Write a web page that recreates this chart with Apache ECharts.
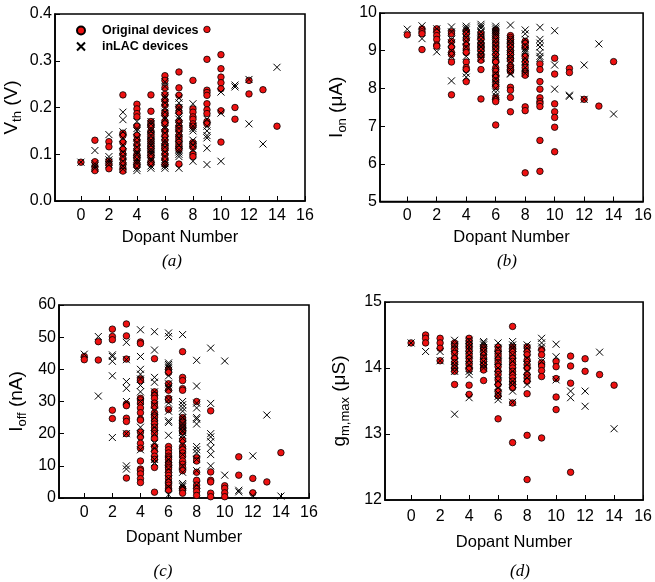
<!DOCTYPE html>
<html>
<head>
<meta charset="utf-8">
<script src="https://cdn.jsdelivr.net/npm/echarts@6/dist/echarts.min.js"></script>
<style>html,body{margin:0;padding:0;background:#fff}#c{width:655px;height:582px}</style>
</head>
<body>
<div id="c"></div>
<script>
// ---- data: index of each inner list = dopant number ----
const dopantTicks = [0, 2, 4, 6, 8, 10, 12, 14, 16];

const vthOrig = [
  [0.083],
  [0.130, 0.084, 0.073, 0.065],
  [0.127, 0.116, 0.085, 0.078, 0.069],
  [0.227, 0.145, 0.140, 0.125, 0.110, 0.100, 0.090, 0.080, 0.070, 0.064],
  [0.207, 0.197, 0.187, 0.180, 0.160, 0.140, 0.130, 0.120, 0.110, 0.100, 0.095, 0.090, 0.080, 0.075],
  [0.227, 0.192, 0.170, 0.165, 0.160, 0.150, 0.145, 0.140, 0.135, 0.130, 0.125, 0.120, 0.115, 0.110, 0.105, 0.100, 0.095, 0.085, 0.080],
  [0.268, 0.258, 0.242, 0.228, 0.215, 0.205, 0.190, 0.185, 0.170, 0.165, 0.150, 0.140, 0.130, 0.120, 0.115, 0.110, 0.100, 0.090, 0.078],
  [0.276, 0.242, 0.226, 0.200, 0.190, 0.170, 0.160, 0.155, 0.150, 0.140, 0.135, 0.130, 0.125, 0.120, 0.115, 0.110, 0.079],
  [0.258, 0.197, 0.190, 0.180, 0.175, 0.165, 0.160, 0.125, 0.120, 0.115, 0.100, 0.095],
  [0.367, 0.303, 0.237, 0.232, 0.226, 0.208, 0.195, 0.187, 0.170, 0.165],
  [0.313, 0.283, 0.265, 0.253, 0.240, 0.193, 0.126],
  [0.200, 0.175],
  [0.258, 0.229],
  [0.238],
  [0.160]
];
const vthLac = [
  [0.083],
  [0.108, 0.080, 0.075, 0.070],
  [0.142, 0.095, 0.088, 0.083, 0.078],
  [0.190, 0.174, 0.148, 0.135, 0.120, 0.105, 0.095, 0.085, 0.075, 0.068],
  [0.170, 0.155, 0.150, 0.135, 0.125, 0.115, 0.105, 0.100, 0.090, 0.085, 0.080, 0.070, 0.065],
  [0.170, 0.165, 0.155, 0.150, 0.140, 0.130, 0.125, 0.120, 0.110, 0.105, 0.100, 0.090, 0.085, 0.075, 0.070],
  [0.255, 0.245, 0.225, 0.220, 0.210, 0.200, 0.190, 0.180, 0.175, 0.160, 0.155, 0.145, 0.130, 0.125, 0.115, 0.105, 0.095, 0.085, 0.080, 0.075, 0.070],
  [0.220, 0.210, 0.200, 0.195, 0.180, 0.175, 0.165, 0.155, 0.145, 0.135, 0.120, 0.110, 0.105, 0.100, 0.095, 0.070],
  [0.208, 0.160, 0.155, 0.150, 0.130, 0.120, 0.110, 0.085],
  [0.175, 0.160, 0.150, 0.140, 0.135, 0.113, 0.078],
  [0.233, 0.188, 0.085],
  [0.248, 0.244],
  [0.260, 0.165],
  [0.122],
  [0.286]
];

const ionOrig = [
  [9.42],
  [9.58, 9.50, 9.45, 9.03],
  [9.58, 9.50, 9.40, 9.30, 9.15, 9.12],
  [9.50, 9.45, 9.25, 9.10, 8.95, 8.90, 8.70, 7.83],
  [9.52, 9.45, 9.30, 9.15, 9.05, 8.95, 8.70, 8.55, 8.50, 8.18],
  [9.45, 9.35, 9.30, 9.20, 9.15, 9.10, 9.05, 9.00, 8.90, 8.85, 8.75, 8.50, 7.72],
  [9.55, 9.45, 9.35, 9.25, 9.15, 9.05, 8.90, 8.75, 8.70, 8.55, 8.45, 8.35, 8.30, 8.20, 8.10, 8.05, 7.75, 7.70, 7.65, 7.03],
  [9.40, 9.35, 9.30, 9.25, 9.20, 9.15, 9.10, 9.00, 8.95, 8.90, 8.80, 8.75, 8.60, 8.55, 8.50, 8.45, 8.03, 7.95, 7.76, 7.38],
  [9.25, 9.20, 9.10, 8.85, 8.70, 8.55, 8.45, 8.40, 8.35, 7.51, 7.41, 5.76],
  [8.65, 8.50, 8.18, 7.98, 7.75, 7.65, 7.60, 7.52, 6.62, 5.80],
  [8.80, 8.38, 7.59, 7.38, 7.23, 6.97, 6.32],
  [8.53, 8.42],
  [7.71],
  [7.53],
  [8.71]
];
const ionLac = [
  [9.57],
  [9.66, 9.32],
  [9.58, 8.97],
  [9.63, 9.50, 9.30, 9.20, 9.00, 8.85, 8.20],
  [9.65, 9.60, 9.55, 9.45, 9.35, 9.25, 9.10, 8.85, 8.40, 8.30],
  [9.70, 9.65, 9.60, 9.50, 9.40, 9.30, 9.20, 9.10, 9.00, 8.90, 8.80],
  [9.65, 9.60, 9.55, 9.50, 9.45, 9.40, 9.30, 9.20, 9.10, 9.00, 8.90, 8.80, 8.60, 8.40, 8.25, 8.15, 8.00, 7.90, 7.80],
  [9.68, 9.30, 9.20, 9.10, 9.00, 8.90, 8.80, 8.70, 8.50, 8.40, 8.38],
  [9.55, 9.45, 9.30, 9.15, 9.05, 9.00, 8.95, 8.80, 8.70, 8.55, 8.40],
  [9.62, 9.30, 9.20, 9.10, 8.95, 8.85, 8.80],
  [9.53, 8.62, 7.98],
  [7.82, 7.79],
  [8.62, 7.71],
  [9.18],
  [7.32]
];

const ioffOrig = [
  [44.0, 43.0],
  [48.6, 42.9],
  [52.5, 50.2, 49.2, 27.3, 24.7],
  [54.1, 50.4, 43.2, 29.2, 28.7, 24.8, 23.8, 20.0, 6.2],
  [48.5, 48.0, 37.0, 36.5, 31.0, 30.5, 29.5, 28.0, 26.5, 24.5, 24.2, 20.5, 19.0, 17.0, 15.5, 11.5, 9.0, 8.5, 7.5, 6.0, 4.8],
  [43.3, 33.0, 32.0, 31.0, 29.5, 28.5, 26.5, 25.5, 25.0, 24.0, 23.0, 22.0, 21.0, 20.0, 18.5, 16.0, 14.5, 13.0, 12.0, 9.5, 1.8],
  [40.0, 39.0, 35.5, 33.5, 31.0, 30.5, 27.5, 16.0, 15.0, 14.0, 13.0, 12.5, 12.0, 11.0, 10.5, 10.0, 9.5, 9.0, 8.0, 7.0, 6.0, 5.0, 4.0, 3.0, 2.5],
  [45.5, 37.5, 36.5, 34.0, 33.5, 25.0, 24.5, 24.0, 23.5, 23.0, 22.5, 22.0, 21.5, 21.0, 20.5, 18.0, 16.0, 15.0, 14.0, 13.0, 11.5, 10.5, 9.5, 8.5, 3.0, 2.5, 1.5],
  [30.0, 12.5, 11.5, 8.0, 5.5, 4.0, 3.0, 2.0, 0.8],
  [27.1, 8.1, 5.5, 5.0, 1.5, 0.4],
  [3.8, 3.0, 1.6, 0.4],
  [12.8, 7.1],
  [6.1, 1.6],
  [5.0],
  [14.1]
];
const ioffLac = [
  [44.7],
  [50.2, 31.7],
  [44.5, 44.0, 42.5, 38.0, 18.8],
  [48.4, 43.0, 36.2, 34.1, 30.0, 20.0, 10.0, 9.0],
  [52.3, 44.0, 40.0, 38.5, 37.0, 35.0, 33.0, 30.0, 22.0, 20.0, 15.0],
  [51.7, 46.0, 37.5, 36.0, 33.0, 29.0, 27.0, 25.0, 22.0, 20.0, 17.0, 15.5, 12.0, 11.0],
  [51.3, 50.2, 42.0, 41.5, 41.0, 40.5, 38.0, 35.5, 34.5, 34.0, 30.5, 29.5, 27.0, 24.0, 23.5, 19.5, 12.0, 9.0, 6.0, 3.5, 1.0],
  [50.8, 30.0, 29.0, 28.0, 27.0, 25.0, 23.0, 22.0, 21.0, 20.5, 19.5, 18.5, 16.5, 13.5, 10.0, 8.0, 4.5, 4.0, 3.5],
  [42.8, 34.8, 29.5, 28.0, 25.0, 24.5, 23.0, 16.0, 15.0, 14.0, 12.0, 8.5, 4.0],
  [46.6, 29.4, 20.0, 19.0, 17.5, 15.5, 13.5, 10.0],
  [42.6, 7.1],
  [2.4, 1.9],
  [13.1, 0.7],
  [25.8],
  [0.6]
];

const gmOrig = [
  [14.38],
  [14.50, 14.45, 14.38],
  [14.45, 14.38, 14.30, 14.11],
  [14.38, 14.33, 14.28, 14.22, 14.15, 14.08, 14.00, 13.95, 13.75],
  [14.45, 14.40, 14.35, 14.30, 14.25, 14.20, 14.15, 14.10, 14.05, 14.00, 13.98, 13.74, 13.60],
  [14.32, 14.27, 14.20, 14.15, 14.10, 14.05, 14.00, 13.97, 13.81],
  [14.32, 14.27, 14.22, 14.18, 14.12, 14.08, 14.02, 13.95, 13.90, 13.82, 13.75, 13.65, 13.58, 13.23],
  [14.63, 14.32, 14.28, 14.25, 14.20, 14.15, 14.10, 14.05, 14.00, 13.95, 13.90, 13.85, 13.80, 13.75, 13.70, 13.47, 12.87],
  [14.32, 14.25, 14.20, 14.12, 14.05, 14.00, 13.90, 13.85, 13.80, 13.61, 12.98, 12.31],
  [14.28, 14.20, 14.08, 14.03, 13.96, 13.87, 12.94],
  [14.10, 14.02, 13.84, 13.56, 13.37],
  [14.18, 14.03, 13.77, 12.42],
  [14.14, 13.95],
  [13.90],
  [13.74]
];
const gmLac = [
  [14.38],
  [14.25],
  [14.25, 14.11],
  [14.42, 14.35, 14.30, 14.20, 14.10, 14.05, 14.00, 13.95, 13.30],
  [14.42, 14.37, 14.32, 14.27, 14.20, 14.12, 14.05, 13.95, 13.90, 13.55],
  [14.40, 14.38, 14.35, 14.30, 14.25, 14.18, 14.10, 14.05, 14.00],
  [14.38, 14.30, 14.20, 14.10, 14.00, 13.90, 13.80, 13.70, 13.62, 13.57, 13.52],
  [14.40, 14.35, 14.30, 14.20, 14.10, 13.95, 13.80, 13.75, 13.65, 13.48],
  [14.35, 14.30, 14.15, 14.05, 13.95, 13.85, 13.75],
  [14.45, 14.38, 14.32, 14.10],
  [14.36, 14.17, 13.82],
  [13.65, 13.55],
  [13.65, 13.42],
  [14.24],
  [13.08]
];

// ---- chart ----
const FONT = '"Liberation Sans", Arial, Helvetica, sans-serif';
const SERIF = '"Liberation Serif", "Times New Roman", serif';
function toPoints(cols) {
  const pts = [];
  cols.forEach((vals, n) => vals.forEach(v => pts.push([n, v])));
  return pts;
}

const panels = [
  { grid: { left: 55, top: 14, width: 250, height: 187 }, xMin: -1.85, yMin: 0, yMax: 0.4, yStep: 0.1, dec: 1,
    name: '{m|V}{s|th}{m| (V)}', nameGap: 31, lblMargin: 7, xNameGap: 28, orig: vthOrig, lac: vthLac },
  { grid: { left: 380, top: 13, width: 264, height: 188.5 }, xMin: -1.85, yMin: 5, yMax: 10, yStep: 1, dec: 0,
    name: '{m|I}{s|on}{m| (μA)}', nameGap: 31, lblMargin: 6.5, xNameGap: 27.5, orig: ionOrig, lac: ionLac },
  { grid: { left: 59, top: 305, width: 250, height: 193 }, xMin: -1.8, yMin: 0, yMax: 60, yStep: 10, dec: 0,
    name: '{m|I}{s|off}{m| (nA)}', nameGap: 30, lblMargin: 7, xNameGap: 31, orig: ioffOrig, lac: ioffLac },
  { grid: { left: 385, top: 302, width: 262, height: 198 }, xMin: -1.8, yMin: 12, yMax: 15, yStep: 1, dec: 0,
    name: '{m|g}{s|m,max}{m| (μS)}', nameGap: 33, lblMargin: 9, xNameGap: 34, orig: gmOrig, lac: gmLac }
];

const crossPath = 'path://M0,0L10,10M10,0L0,10';
function panelLabel(text, x, y) {
  return { type: 'text', x: x, y: y, silent: true,
    style: { text: text, fontSize: 17, fontStyle: 'italic', fontFamily: SERIF, fill: '#000', align: 'center', verticalAlign: 'middle' } };
}
const option = {
  animation: false,
  backgroundColor: '#fff',
  grid: panels.map(p => Object.assign({ show: true, borderColor: '#000', borderWidth: 1.6, containLabel: false }, p.grid)),
  xAxis: panels.map((p, i) => ({
    type: 'value', gridIndex: i, min: p.xMin, max: 16,
    axisLine: { show: true, onZero: false, lineStyle: { color: '#000', width: 1.6 } },
    axisTick: { show: true, inside: true, length: 5, customValues: dopantTicks, lineStyle: { color: '#000', width: 1 } },
    axisLabel: { customValues: dopantTicks, color: '#000', fontSize: 16, fontFamily: FONT, margin: p.lblMargin },
    splitLine: { show: false },
    name: 'Dopant Number', nameLocation: 'middle', nameGap: p.xNameGap,
    nameTextStyle: { color: '#000', fontSize: 16.5, fontFamily: FONT }
  })),
  yAxis: panels.map((p, i) => ({
    type: 'value', gridIndex: i, min: p.yMin, max: p.yMax, interval: p.yStep,
    axisLine: { show: true, onZero: false, lineStyle: { color: '#000', width: 1.6 } },
    axisTick: { show: true, inside: true, length: 5, lineStyle: { color: '#000', width: 1 } },
    axisLabel: { color: '#000', fontSize: 16, fontFamily: FONT, margin: 3,
      formatter: v => v.toFixed(p.dec) },
    splitLine: { show: false },
    name: p.name, nameLocation: 'middle', nameRotate: 90, nameGap: p.nameGap,
    nameTextStyle: {
      color: '#000', fontSize: 19, fontFamily: FONT,
      rich: {
        m: { color: '#000', fontSize: 19, fontFamily: FONT, verticalAlign: 'top', lineHeight: 22 },
        s: { color: '#000', fontSize: 13, fontFamily: FONT, verticalAlign: 'top', padding: [9, 0, 0, 0] }
      }
    }
  })),
  legend: {
    left: 76, top: 24, padding: 0, orient: 'vertical', itemWidth: 8, itemHeight: 8, itemGap: 3,
    selectedMode: false,
    textStyle: { color: '#000', fontSize: 12.5, fontWeight: 'bold', fontFamily: FONT, padding: [0, 0, 0, 12] },
    data: ['Original devices', 'inLAC devices']
  },
  series: [],
  graphic: [
    panelLabel('(a)', 172, 262),
    panelLabel('(b)', 507, 262),
    panelLabel('(c)', 163, 572),
    panelLabel('(d)', 520, 572)
  ]
};

panels.forEach((p, i) => {
  option.series.push({
    type: 'scatter', name: 'Original devices', xAxisIndex: i, yAxisIndex: i, z: 2,
    symbol: 'circle', symbolSize: 6.5, silent: true,
    itemStyle: { color: '#ee1111', borderColor: '#000', borderWidth: 0.8, opacity: 1 },
    data: toPoints(p.orig)
  });
  option.series.push({
    type: 'scatter', name: 'inLAC devices', xAxisIndex: i, yAxisIndex: i, z: 3,
    symbol: crossPath, symbolSize: 7, silent: true,
    itemStyle: { color: 'rgba(0,0,0,0)', borderColor: '#000', borderWidth: 1, opacity: 1 },
    data: toPoints(p.lac)
  });
});

const chart = echarts.init(document.getElementById('c'), null, { renderer: 'canvas' });
chart.setOption(option);
</script>
</body>
</html>
